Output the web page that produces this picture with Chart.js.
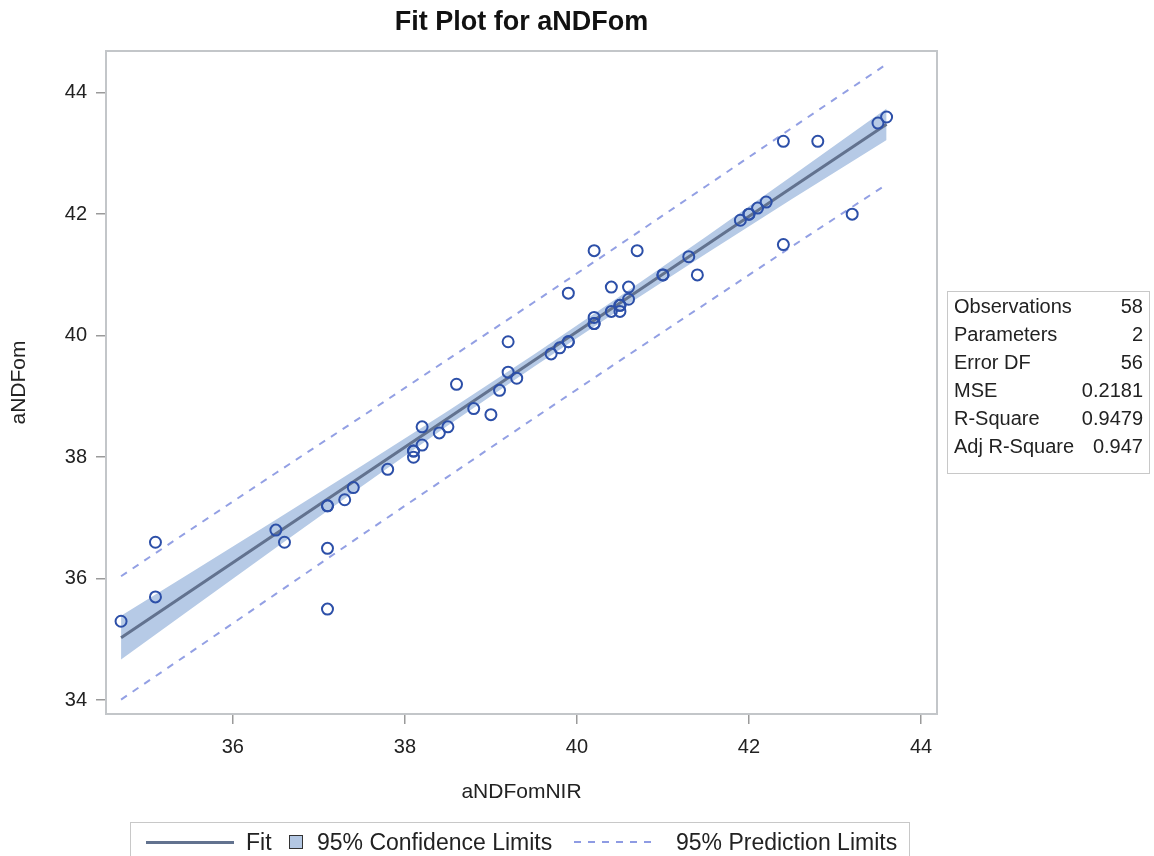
<!DOCTYPE html>
<html>
<head>
<meta charset="utf-8">
<script src="https://cdn.jsdelivr.net/npm/chart.js@4.4.1/dist/chart.umd.min.js"></script>
<style>
  body { margin: 0; background: #fff; font-family: "Liberation Sans", Arial, sans-serif; color: #222; }
  #wrap { position: relative; width: 1154px; height: 856px; overflow: hidden; background: #fff; }
  #c { position: absolute; left: 0; top: 0; }
  #title { position: absolute; left: 0; width: 1043px; top: 6px; text-align: center; font-weight: bold; font-size: 27px; color: #111; }
  #stats { position: absolute; left: 947px; top: 291px; width: 189px; border: 1px solid #c8c8c8; padding: 0 6px 13px 6px; font-size: 20px; color: #222; }
  #stats .row { height: 28px; line-height: 28px; display: flex; justify-content: space-between; white-space: nowrap; }
  #legend { position: absolute; left: 130px; top: 822px; width: 778px; height: 44px; border: 1px solid #c8c8c8; font-size: 23px; color: #222; }
  #legend .it { position: absolute; top: 0; height: 38px; line-height: 38px; white-space: nowrap; }
</style>
</head>
<body>
<div id="wrap">
  <canvas id="c" width="1154" height="856"></canvas>
  <div id="title">Fit Plot for aNDFom</div>
  <div id="stats"></div>
  <div id="legend">
    <div class="it" style="left:15px;width:88px;"><div style="position:absolute;top:18px;left:0;width:88px;height:3px;background:#62728f;"></div></div>
    <div class="it" style="left:115px;">Fit</div>
    <div class="it" style="left:158px;width:15px;"><div style="position:absolute;top:12px;left:0;width:12px;height:12px;background:#b3c7e3;border:1.5px solid #333;"></div></div>
    <div class="it" style="left:186px;">95% Confidence Limits</div>
    <div class="it" style="left:443px;width:84px;"><div style="position:absolute;top:18px;left:0;width:84px;height:2px;background:repeating-linear-gradient(to right,#8e9be3 0 7px,transparent 7px 14px);"></div></div>
    <div class="it" style="left:545px;">95% Prediction Limits</div>
  </div>
</div>
<script>
// ---------- data ----------
const obsX = [34.7, 35.1, 35.1, 36.5, 36.6, 37.1, 37.1, 37.1, 37.3, 37.4,
              37.8, 38.1, 38.1, 38.2, 38.2, 38.4, 38.5, 38.6, 38.8, 39.0,
              39.1, 39.2, 39.2, 39.3, 39.7, 39.8, 39.9, 39.9, 40.2, 40.2,
              40.2, 40.4, 40.4, 40.5, 40.5, 40.6, 40.6, 40.7, 41.0, 41.3,
              41.4, 41.9, 42.0, 42.1, 42.2, 42.4, 42.4, 42.8, 43.2, 43.5,
              43.6, 38.1, 40.5, 40.2, 39.9, 42.0, 37.1, 41.0];
const obsY = [35.3, 35.7, 36.6, 36.8, 36.6, 37.2, 36.5, 35.5, 37.3, 37.5,
              37.8, 38.1, 38.0, 38.5, 38.2, 38.4, 38.5, 39.2, 38.8, 38.7,
              39.1, 39.4, 39.9, 39.3, 39.7, 39.8, 39.9, 40.7, 40.3, 40.2,
              41.4, 40.8, 40.4, 40.5, 40.4, 40.8, 40.6, 41.4, 41.0, 41.3,
              41.0, 41.9, 42.0, 42.1, 42.2, 43.2, 41.5, 43.2, 42.0, 43.5,
              43.6, 38.1, 40.5, 40.2, 39.9, 42.0, 37.2, 41.0];

const bandX   = [34.7, 35.5, 36.5, 37.5, 38.5, 39.5, 40.5, 41.5, 42.5, 43.6];
const fitY    = [35.03, 35.79, 36.74, 37.69, 38.64, 39.59, 40.54, 41.49, 42.44, 43.48];
const clLower = [34.67, 35.49, 36.51, 37.52, 38.52, 39.49, 40.43, 41.35, 42.25, 43.22];
const clUpper = [35.39, 36.09, 36.97, 37.86, 38.76, 39.69, 40.65, 41.63, 42.63, 43.74];
const plLower = [34.01, 34.78, 35.75, 36.72, 37.68, 38.64, 39.59, 40.53, 41.47, 42.49];
const plUpper = [36.04, 36.80, 37.74, 38.67, 39.61, 40.55, 41.50, 42.46, 43.42, 44.47];

const xTicks = [36, 38, 40, 42, 44];
const yTicks = [34, 36, 38, 40, 42, 44];

const statLabels = ["Observations", "Parameters", "Error DF", "MSE", "R-Square", "Adj R-Square"];
const statValues = ["58", "2", "56", "0.2181", "0.9479", "0.947"];

// ---------- stats table ----------
const st = document.getElementById('stats');
statLabels.forEach((l, i) => {
  const r = document.createElement('div');
  r.className = 'row';
  r.innerHTML = '<span>' + l + '</span><span>' + statValues[i] + '</span>';
  st.appendChild(r);
});

// ---------- chart ----------
const FONT = '"Liberation Sans", Arial, sans-serif';
const pts = (xs, ys) => xs.map((x, i) => ({ x: x, y: ys[i] }));

const framePlugin = {
  id: 'frame',
  afterDraw(chart) {
    const { ctx, chartArea: a } = chart;
    ctx.save();
    ctx.strokeStyle = '#c3c6c9';
    ctx.lineWidth = 2;
    ctx.strokeRect(a.left, a.top, a.right - a.left, a.bottom - a.top);
    ctx.restore();
  }
};

new Chart(document.getElementById('c'), {
  type: 'scatter',
  data: {
    datasets: [
      { type: 'line', label: 'CL lower', data: pts(bandX, clLower), borderWidth: 0, borderColor: 'rgba(0,0,0,0)',
        pointRadius: 0, fill: false, order: 5 },
      { type: 'line', label: '95% Confidence Limits', data: pts(bandX, clUpper), borderWidth: 0, borderColor: 'rgba(0,0,0,0)',
        pointRadius: 0, fill: '-1', backgroundColor: '#b6cae6', order: 5 },
      { type: 'line', label: '95% Prediction Limits', data: pts(bandX, plUpper), borderWidth: 2, borderColor: '#93a0e4',
        borderDash: [7, 7], pointRadius: 0, fill: false, order: 3 },
      { type: 'line', label: 'PL lower', data: pts(bandX, plLower), borderWidth: 2, borderColor: '#93a0e4',
        borderDash: [7, 7], pointRadius: 0, fill: false, order: 3 },
      { type: 'line', label: 'Fit', data: pts(bandX, fitY), borderWidth: 3, borderColor: '#62728f',
        pointRadius: 0, fill: false, order: 2 },
      { type: 'scatter', label: 'aNDFom', data: pts(obsX, obsY), pointStyle: 'circle', pointRadius: 5.5,
        borderWidth: 2, borderColor: '#2c4fa8', backgroundColor: 'rgba(0,0,0,0)', order: 1 }
    ]
  },
  options: {
    responsive: false,
    animation: false,
    devicePixelRatio: 1,
    layout: { padding: { left: 0, right: 217, top: 51, bottom: 47 } },
    plugins: { legend: { display: false }, title: { display: false }, tooltip: { enabled: false } },
    scales: {
      x: {
        type: 'linear', min: 34.525, max: 44.186,
        afterBuildTicks: s => { s.ticks = xTicks.map(v => ({ value: v })); },
        afterFit: s => { s.height = 95; },
        ticks: { font: { family: FONT, size: 20 }, color: '#222', padding: 11 },
        grid: { drawOnChartArea: false, drawTicks: true, tickLength: 10, color: '#9a9a9a', lineWidth: 1.5 },
        border: { display: false },
        title: { display: true, text: 'aNDFomNIR', font: { family: FONT, size: 21 }, color: '#222', padding: { top: 4, bottom: 4 } }
      },
      y: {
        type: 'linear', min: 33.773, max: 44.686,
        afterBuildTicks: s => { s.ticks = yTicks.map(v => ({ value: v })); },
        afterFit: s => { s.width = 106; },
        ticks: { font: { family: FONT, size: 20 }, color: '#222', padding: 9 },
        grid: { drawOnChartArea: false, drawTicks: true, tickLength: 10, color: '#9a9a9a', lineWidth: 1.5 },
        border: { display: false },
        title: { display: true, text: 'aNDFom', font: { family: FONT, size: 21 }, color: '#222', padding: { top: 7, bottom: 4 } }
      }
    }
  },
  plugins: [framePlugin]
});
</script>
</body>
</html>
